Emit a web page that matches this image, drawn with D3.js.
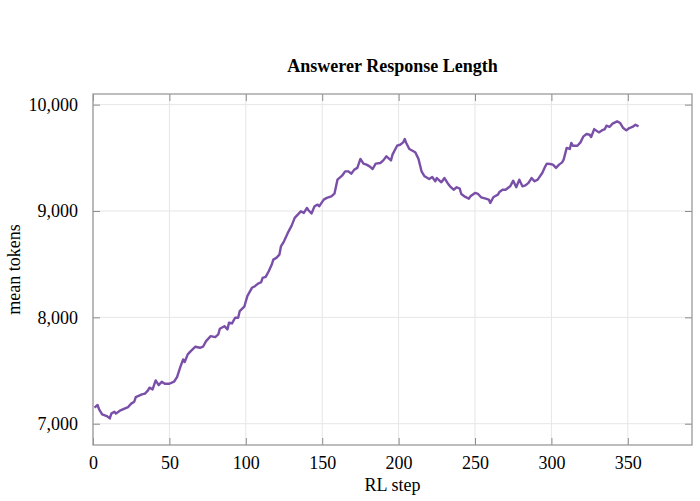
<!DOCTYPE html>
<html>
<head>
<meta charset="utf-8">
<script src="https://cdn.jsdelivr.net/npm/d3@7"></script>
<style>
  body { margin: 0; background: #fff; }
  text { font-family: "Liberation Serif", "Times New Roman", serif; fill: #000; }
</style>
</head>
<body>
<svg id="chart" width="700" height="501"></svg>
<script>
// values
var steps = [1,3,4,6,9,11,12,14,15,18,21,23,25,27,28,32,34,36,37,39,41,43,45,47,50,53,55,57,59,60,
  62,64,67,70,72,74,77,80,82,83,86,88,89,91,93,95,96,99,101,104,106,108,110,111,113,115,117,118,120,122,
  123,125,128,130,132,134,136,138,140,141,143,145,147,148,151,153,156,158,160,163,165,167,169,171,173,175,177,179,181,183,
  185,188,190,192,195,196,199,201,203,204,205,207,210,211,213,215,217,220,222,224,225,228,230,232,234,236,238,240,241,243,
  246,247,250,252,254,257,259,260,262,263,265,266,268,270,273,275,277,279,281,283,285,287,289,291,294,296,297,299,301,303,
  305,307,308,310,312,313,314,317,319,321,323,325,326,328,331,333,335,336,338,340,343,345,347,349,351,353,355,357];
var tokens = [7151,7176,7135,7088,7072,7050,7095,7113,7095,7126,7145,7157,7189,7207,7251,7276,7283,7314,7339,7323,7407,7363,7395,7376,7376,7395,7438,7527,7605,7580,
  7652,7683,7724,7714,7724,7777,7823,7814,7840,7893,7917,7887,7950,7943,7996,7996,8058,8100,8200,8278,8293,8318,8330,8372,8381,8434,8497,8543,8559,8590,
  8668,8715,8809,8863,8935,8966,8997,8982,9029,9007,8976,9044,9060,9044,9107,9123,9138,9163,9295,9332,9373,9373,9351,9389,9405,9490,9445,9436,9420,9395,
  9445,9451,9476,9514,9476,9530,9614,9623,9645,9677,9640,9583,9560,9550,9490,9373,9326,9301,9320,9279,9310,9270,9310,9264,9226,9200,9223,9210,9160,9138,
  9116,9138,9170,9160,9129,9116,9107,9076,9129,9138,9154,9179,9200,9200,9232,9285,9223,9295,9232,9241,9264,9310,9279,9295,9357,9420,9445,9442,9436,9405,
  9436,9457,9483,9593,9583,9640,9614,9614,9645,9702,9724,9717,9696,9770,9739,9758,9770,9802,9790,9821,9843,9827,9780,9758,9780,9790,9811,9796];
var xTicks = [0, 50, 100, 150, 200, 250, 300, 350];
var yTicks = [7000, 8000, 9000, 10000];

var svg = d3.select("#chart"),
  margin = {left: 93, right: 8, top: 94, bottom: 56},
  width = 700 - margin.left - margin.right,
  height = 501 - margin.top - margin.bottom;

var x = d3.scaleLinear().domain([0, 392]).range([0, width]);
var y = d3.scaleLinear().domain([6800, 10100]).range([height, 0]);

var g = svg.append("g")
  .attr("transform", "translate(" + margin.left + "," + margin.top + ")");

// grid
g.append("g").selectAll("line")
  .data(xTicks).enter().append("line")
  .attr("x1", function(d) { return x(d); }).attr("x2", function(d) { return x(d); })
  .attr("y1", 0).attr("y2", height)
  .attr("stroke", "#e6e6e6").attr("stroke-width", 1);
g.append("g").selectAll("line")
  .data(yTicks).enter().append("line")
  .attr("x1", 0).attr("x2", width)
  .attr("y1", function(d) { return y(d); }).attr("y2", function(d) { return y(d); })
  .attr("stroke", "#e6e6e6").attr("stroke-width", 1);

// axes with inward ticks
var fmt = d3.format(",");
var xAxis = g.append("g").attr("transform", "translate(0," + height + ")")
  .call(d3.axisBottom(x).tickValues(xTicks).tickSize(-7).tickPadding(11).tickFormat(d3.format("d")));
var xTop = g.append("g")
  .call(d3.axisTop(x).tickValues(xTicks).tickSize(-7).tickFormat(""));
var yAxis = g.append("g")
  .call(d3.axisLeft(y).tickValues(yTicks).tickSize(-7).tickPadding(15).tickFormat(fmt));
var yRight = g.append("g").attr("transform", "translate(" + width + ",0)")
  .call(d3.axisRight(y).tickValues(yTicks).tickSize(-7).tickFormat(""));

[xAxis, xTop, yAxis, yRight].forEach(function(a) {
  a.select(".domain").remove();
  a.selectAll(".tick line").attr("stroke", "#8c8c8c");
  a.selectAll("text").style("font-size", "18px").style("font-family", "Liberation Serif");
});

// frame
g.append("rect")
  .attr("width", width).attr("height", height)
  .attr("fill", "none").attr("stroke", "#9a9a9a").attr("stroke-width", 1.3);

// line
var line = d3.line()
  .x(function(d, i) { return x(steps[i]); })
  .y(function(d) { return y(d); });

g.append("path")
  .datum(tokens)
  .attr("fill", "none")
  .attr("stroke", "#7a4fa8")
  .attr("stroke-width", 2.4)
  .attr("stroke-linejoin", "round")
  .attr("d", line);

// labels
svg.append("text")
  .attr("x", margin.left + width / 2).attr("y", 72)
  .attr("text-anchor", "middle")
  .style("font-size", "18px").style("font-weight", "bold")
  .text("Answerer Response Length");

svg.append("text")
  .attr("x", margin.left + width / 2).attr("y", 491)
  .attr("text-anchor", "middle")
  .style("font-size", "18px")
  .text("RL step");

svg.append("text")
  .attr("transform", "translate(20," + (margin.top + height / 2) + ") rotate(-90)")
  .attr("text-anchor", "middle")
  .style("font-size", "18px")
  .text("mean tokens");
</script>
</body>
</html>
